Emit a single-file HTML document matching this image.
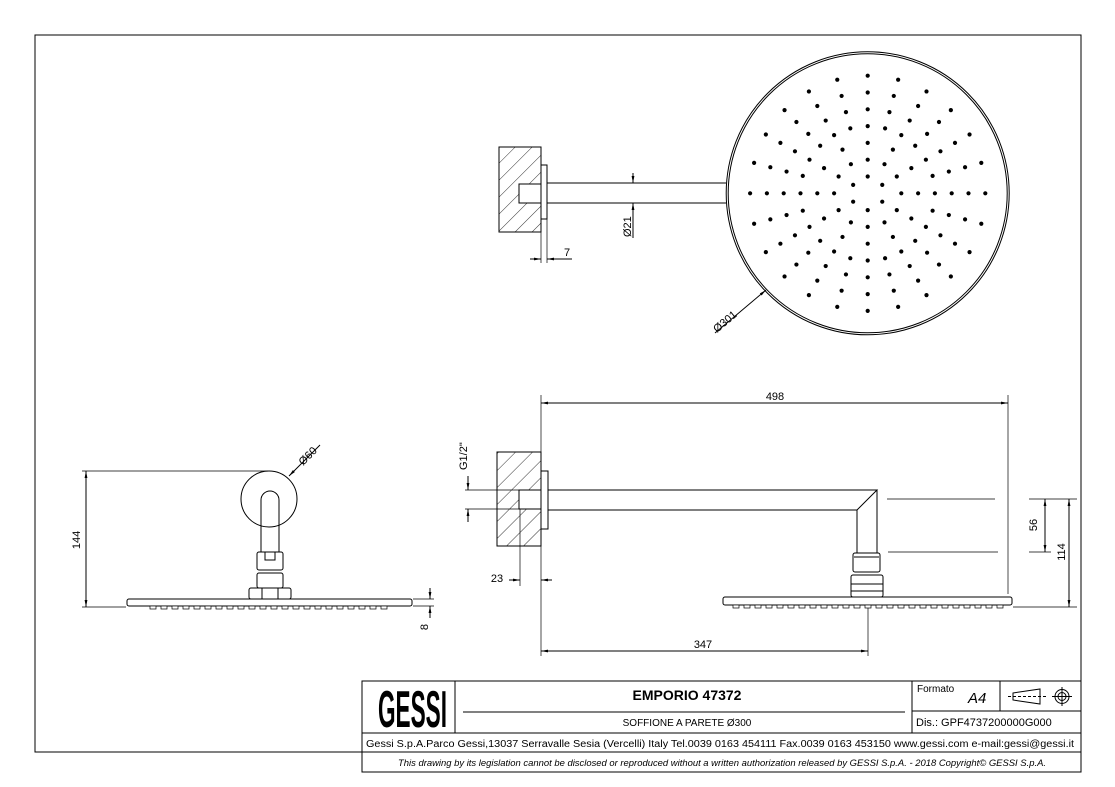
<!DOCTYPE html>
<html><head><meta charset="utf-8"><style>
html,body{margin:0;padding:0;background:#fff;}
svg{display:block;font-family:"Liberation Sans",Arial,sans-serif;}
</style></head><body>
<svg id="s" width="1115" height="787" viewBox="0 0 1115 787" xmlns="http://www.w3.org/2000/svg">
<defs>
<pattern id="h" width="12" height="12" patternUnits="userSpaceOnUse" patternTransform="rotate(45)">
<line x1="0" y1="0" x2="0" y2="12" stroke="#000" stroke-width="0.8"/>
</pattern>
<marker id="a" viewBox="0 0 10 10" refX="10" refY="5" markerWidth="7" markerHeight="7" orient="auto-start-reverse"><path d="M0,3 L10,5 L0,7z" fill="#000"/></marker>
</defs>
<g fill="none" stroke="#000" stroke-width="1">
<polyline points="362,752 35,752 35,35 1081,35 1081,752"/>
<rect x="362" y="681" width="719" height="91" />
<line x1="362" y1="733" x2="1081" y2="733"/>
<line x1="362" y1="752" x2="1081" y2="752"/>
<line x1="455" y1="681" x2="455" y2="733"/>
<line x1="912" y1="681" x2="912" y2="733"/>
<line x1="1000" y1="681" x2="1000" y2="711"/>
<line x1="912" y1="711" x2="1081" y2="711"/>
<line x1="463" y1="712" x2="905" y2="712"/>
<polygon points="1013,693 1040,689 1040,704 1013,700"/>
<line x1="1008" y1="696.5" x2="1046" y2="696.5" stroke-dasharray="3,2"/>
<circle cx="1062" cy="696.5" r="7"/><circle cx="1062" cy="696.5" r="4"/>
<line x1="1052" y1="696.5" x2="1072" y2="696.5"/><line x1="1062" y1="687" x2="1062" y2="706"/>

<rect x="499" y="147" width="42" height="85" fill="url(#h)"/>
<rect x="519" y="184" width="22" height="19" fill="#fff"/>
<rect x="541" y="165" width="6" height="54" fill="#fff"/>
<line x1="547" y1="183" x2="726" y2="183"/><line x1="547" y1="203" x2="726" y2="203"/>
<circle cx="867.7" cy="193.3" r="141.5"/><circle cx="867.7" cy="193.3" r="139.5"/>
<line x1="541" y1="219" x2="541" y2="263" stroke-width="0.7"/><line x1="547" y1="219" x2="547" y2="263" stroke-width="0.7"/>
<line x1="530" y1="259" x2="541" y2="259" marker-end="url(#a)"/><line x1="572" y1="259" x2="547" y2="259" marker-end="url(#a)"/>
<line x1="633" y1="173" x2="633" y2="183" marker-end="url(#a)"/><line x1="633" y1="238" x2="633" y2="203" marker-end="url(#a)"/>
<line x1="715" y1="333" x2="766" y2="290" marker-end="url(#a)"/>

<circle cx="269" cy="499" r="28"/>
<path d="M261,552 L261,500 A9,9 0 0 1 279,500 L279,552"/>
<rect x="257" y="552" width="26" height="18" rx="2"/>
<rect x="265" y="552" width="10" height="8"/>
<rect x="257" y="573" width="26" height="15" rx="2"/>
<rect x="249" y="588" width="42" height="11" rx="2"/>
<line x1="262" y1="588" x2="262" y2="599"/><line x1="278" y1="588" x2="278" y2="599"/>
<rect x="127" y="599" width="285" height="7" rx="2"/>
<line x1="82" y1="471" x2="268" y2="471" stroke-width="0.7"/>
<line x1="82" y1="607" x2="126" y2="607" stroke-width="0.7"/>
<line x1="86" y1="539" x2="86" y2="471" marker-end="url(#a)"/><line x1="86" y1="539" x2="86" y2="607" marker-end="url(#a)"/>
<line x1="320" y1="445" x2="289" y2="476" marker-end="url(#a)"/>
<line x1="413" y1="599" x2="434" y2="599" stroke-width="0.7"/><line x1="413" y1="606" x2="434" y2="606" stroke-width="0.7"/>
<line x1="430" y1="588" x2="430" y2="599" marker-end="url(#a)"/><line x1="430" y1="618" x2="430" y2="606" marker-end="url(#a)"/>

<rect x="497" y="452" width="44" height="94" fill="url(#h)"/>
<rect x="519" y="490" width="22" height="19" fill="#fff"/>
<rect x="541" y="471" width="7" height="58" fill="#fff"/>
<polyline points="548,490 877,490 857,510 548,510"/>
<line x1="877" y1="490" x2="877" y2="553"/><line x1="857" y1="510" x2="857" y2="553"/>
<rect x="853" y="553" width="27" height="19" rx="2"/>
<line x1="854" y1="557" x2="879" y2="557"/>
<rect x="851" y="575" width="32" height="22" rx="2"/>
<line x1="851" y1="584" x2="883" y2="584"/><line x1="851" y1="591" x2="883" y2="591"/>
<rect x="723" y="597" width="289" height="8" rx="2"/>
<line x1="541" y1="395" x2="541" y2="452" stroke-width="0.7"/>
<line x1="541" y1="546" x2="541" y2="656" stroke-width="0.7"/>
<line x1="1008" y1="395" x2="1008" y2="594" stroke-width="0.7"/>
<line x1="775" y1="403" x2="541" y2="403" marker-end="url(#a)"/><line x1="775" y1="403" x2="1008" y2="403" marker-end="url(#a)"/>
<line x1="868" y1="608" x2="868" y2="656" stroke-width="0.7"/>
<line x1="700" y1="651" x2="541" y2="651" marker-end="url(#a)"/><line x1="700" y1="651" x2="868" y2="651" marker-end="url(#a)"/>
<line x1="520" y1="509" x2="520" y2="586" stroke-width="0.7"/>
<line x1="509" y1="580" x2="520" y2="580" marker-end="url(#a)"/><line x1="552" y1="580" x2="541" y2="580" marker-end="url(#a)"/>
<line x1="465" y1="490" x2="519" y2="490" stroke-width="0.7"/><line x1="465" y1="509" x2="519" y2="509" stroke-width="0.7"/>
<line x1="468" y1="476" x2="468" y2="490" marker-end="url(#a)"/><line x1="468" y1="522" x2="468" y2="509" marker-end="url(#a)"/>
<line x1="887" y1="499" x2="995" y2="499" stroke-width="0.7"/>
<line x1="888" y1="552" x2="998" y2="552" stroke-width="0.7"/>
<line x1="1029" y1="499" x2="1077" y2="499" stroke-width="0.7"/>
<line x1="1029" y1="552" x2="1051" y2="552" stroke-width="0.7"/>
<line x1="1013" y1="607" x2="1077" y2="607" stroke-width="0.7"/>
<line x1="1045" y1="525" x2="1045" y2="499" marker-end="url(#a)"/><line x1="1045" y1="525" x2="1045" y2="552" marker-end="url(#a)"/>
<line x1="1069" y1="550" x2="1069" y2="499" marker-end="url(#a)"/><line x1="1069" y1="550" x2="1069" y2="607" marker-end="url(#a)"/>
</g>
<g id="dots" fill="#000"></g>
<g id="nz" fill="#fff" stroke="#000" stroke-width="0.7"></g>
<g font-size="11" fill="#000">
<text x="567" y="256" text-anchor="middle">7</text>
<text transform="translate(631,237) rotate(-90)">Ø21</text>
<text transform="translate(717,333) rotate(-40)">Ø301</text>
<text transform="translate(80,540) rotate(-90)" text-anchor="middle">144</text>
<text transform="translate(303,466) rotate(-45)">Ø60</text>
<text transform="translate(428,627) rotate(-90)" text-anchor="middle">8</text>
<text x="775" y="400" text-anchor="middle">498</text>
<text x="703" y="648" text-anchor="middle">347</text>
<text x="497" y="582" text-anchor="middle">23</text>
<text transform="translate(467,470) rotate(-90)">G1/2"</text>
<text transform="translate(1037,525) rotate(-90)" text-anchor="middle">56</text>
<text transform="translate(1065,552) rotate(-90)" text-anchor="middle">114</text>
</g>
<g fill="#000">
<text x="378" y="727" font-size="52" font-weight="bold" textLength="69" lengthAdjust="spacingAndGlyphs">GESSI</text>
<text x="687" y="700" font-size="14" font-weight="bold" text-anchor="middle">EMPORIO 47372</text>
<text x="687" y="726" font-size="10" text-anchor="middle">SOFFIONE A PARETE Ø300</text>
<text x="917" y="692" font-size="10">Formato</text>
<text x="968" y="703" font-size="15" font-style="italic">A4</text>
<text x="916" y="726" font-size="11">Dis.: GPF4737200000G000</text>
<text x="720" y="747" font-size="10" text-anchor="middle" textLength="708" lengthAdjust="spacingAndGlyphs">Gessi S.p.A.Parco Gessi,13037 Serravalle Sesia (Vercelli) Italy Tel.0039 0163 454111 Fax.0039 0163 453150 www.gessi.com e-mail:gessi@gessi.it</text>
<text x="722" y="766" font-size="9" font-style="italic" text-anchor="middle" textLength="648" lengthAdjust="spacingAndGlyphs">This drawing by its legislation cannot be disclosed or reproduced without a written authorization released by GESSI S.p.A. - 2018 Copyright© GESSI S.p.A.</text>
</g>
<script>
(function(){
var ns="http://www.w3.org/2000/svg",g=document.getElementById("dots"),cx=867.7,cy=193.3,u=16.8;
function d(r,a){var c=document.createElementNS(ns,"circle");c.setAttribute("cx",cx+r*Math.cos(a*Math.PI/180));c.setAttribute("cy",cy-r*Math.sin(a*Math.PI/180));c.setAttribute("r",2.1);g.appendChild(c);}
for(var k=0;k<6;k++)d(u,30+60*k);
for(var k=0;k<12;k++){d(2*u,30*k);d(3*u,30*k);}
for(var ring=4;ring<=7;ring++)for(var k=0;k<24;k++)d(ring*u,15*k);
var n=document.getElementById("nz");
function bumps(x0,x1,y){for(var x=x0;x<=x1;x+=11){var r=document.createElementNS(ns,"rect");r.setAttribute("x",x);r.setAttribute("y",y);r.setAttribute("width",6);r.setAttribute("height",3);n.appendChild(r);}}
bumps(150,390,606);bumps(733,1000,605);
})();
</script>
</svg>
</body></html>
